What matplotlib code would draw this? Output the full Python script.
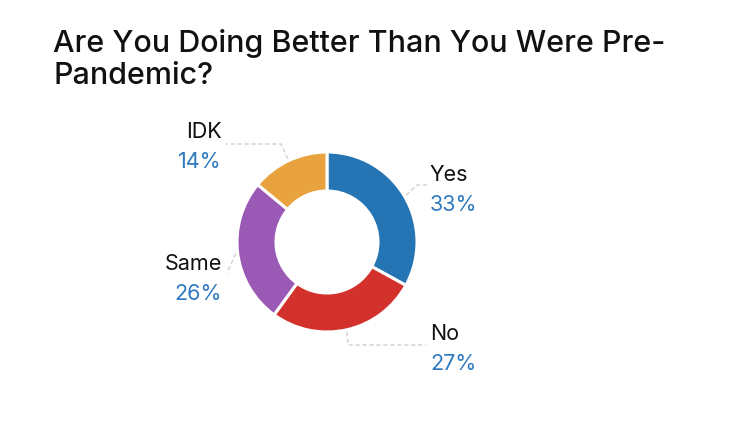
import numpy as np
import matplotlib
matplotlib.use("Agg")
import matplotlib.pyplot as plt

categories = ["Yes", "No", "Same", "IDK"]
shares = [33, 27, 26, 14]
colors = ["#2574b4", "#d3322c", "#9b59b6", "#e8a23e"]

W, H = 739, 423
plt.rcParams['font.family'] = ['Inter', 'DejaVu Sans']

fig = plt.figure(figsize=(W / 100, H / 100), dpi=100)
ax = fig.add_axes([0, 0, 1, 1])


def Y(py):
    return H - py


cx, cy, r_out, r_in = 327, Y(242), 90, 51
wedges, _ = ax.pie(shares, colors=colors, startangle=90, counterclock=False,
                   radius=r_out, center=(cx, cy), frame=True,
                   wedgeprops=dict(width=r_out - r_in, edgecolor='white',
                                   linewidth=2.2, joinstyle='round'))
ax.set_xlim(0, W)
ax.set_ylim(0, H)
ax.set_aspect('equal')
ax.axis('off')

# title
ax.text(53, Y(52), "Are You Doing Better Than You Were Pre-", fontsize=21.9,
        color='#111111', va='baseline', ha='left', fontweight='medium')
ax.text(53, Y(84), "Pandemic?", fontsize=21.9, color='#111111',
        va='baseline', ha='left', fontweight='medium')

# label placement: (x, name baseline, ha, leader points after the arc point)
label_spots = {
    "Yes": (430, 181, 'left', [(417, 185), (427, 185)]),
    "No": (430, 340, 'left', [(348, 345), (426, 345)]),
    "Same": (222, 270, 'right', [(227, 273)]),
    "IDK": (222, 138, 'right', [(281, 144), (226, 144)]),
}

for w, name, val in zip(wedges, categories, shares):
    mid = np.deg2rad((w.theta1 + w.theta2) / 2)
    sx = cx + (r_out + 2) * np.cos(mid)
    sy = cy + (r_out + 2) * np.sin(mid)
    x, base, ha, pts = label_spots[name]
    xs = [sx] + [p[0] for p in pts]
    ys = [sy] + [Y(p[1]) for p in pts]
    ax.plot(xs, ys, color='#cfcfcf', lw=1, ls=(0, (3, 2)))
    ax.text(x, Y(base), name, fontsize=15.5, color='#111111',
            ha=ha, va='baseline')
    ax.text(x, Y(base + 30), f"{val}%", fontsize=15.5, color='#2f7abf',
            ha=ha, va='baseline')

fig.savefig("out.png", dpi=100)
